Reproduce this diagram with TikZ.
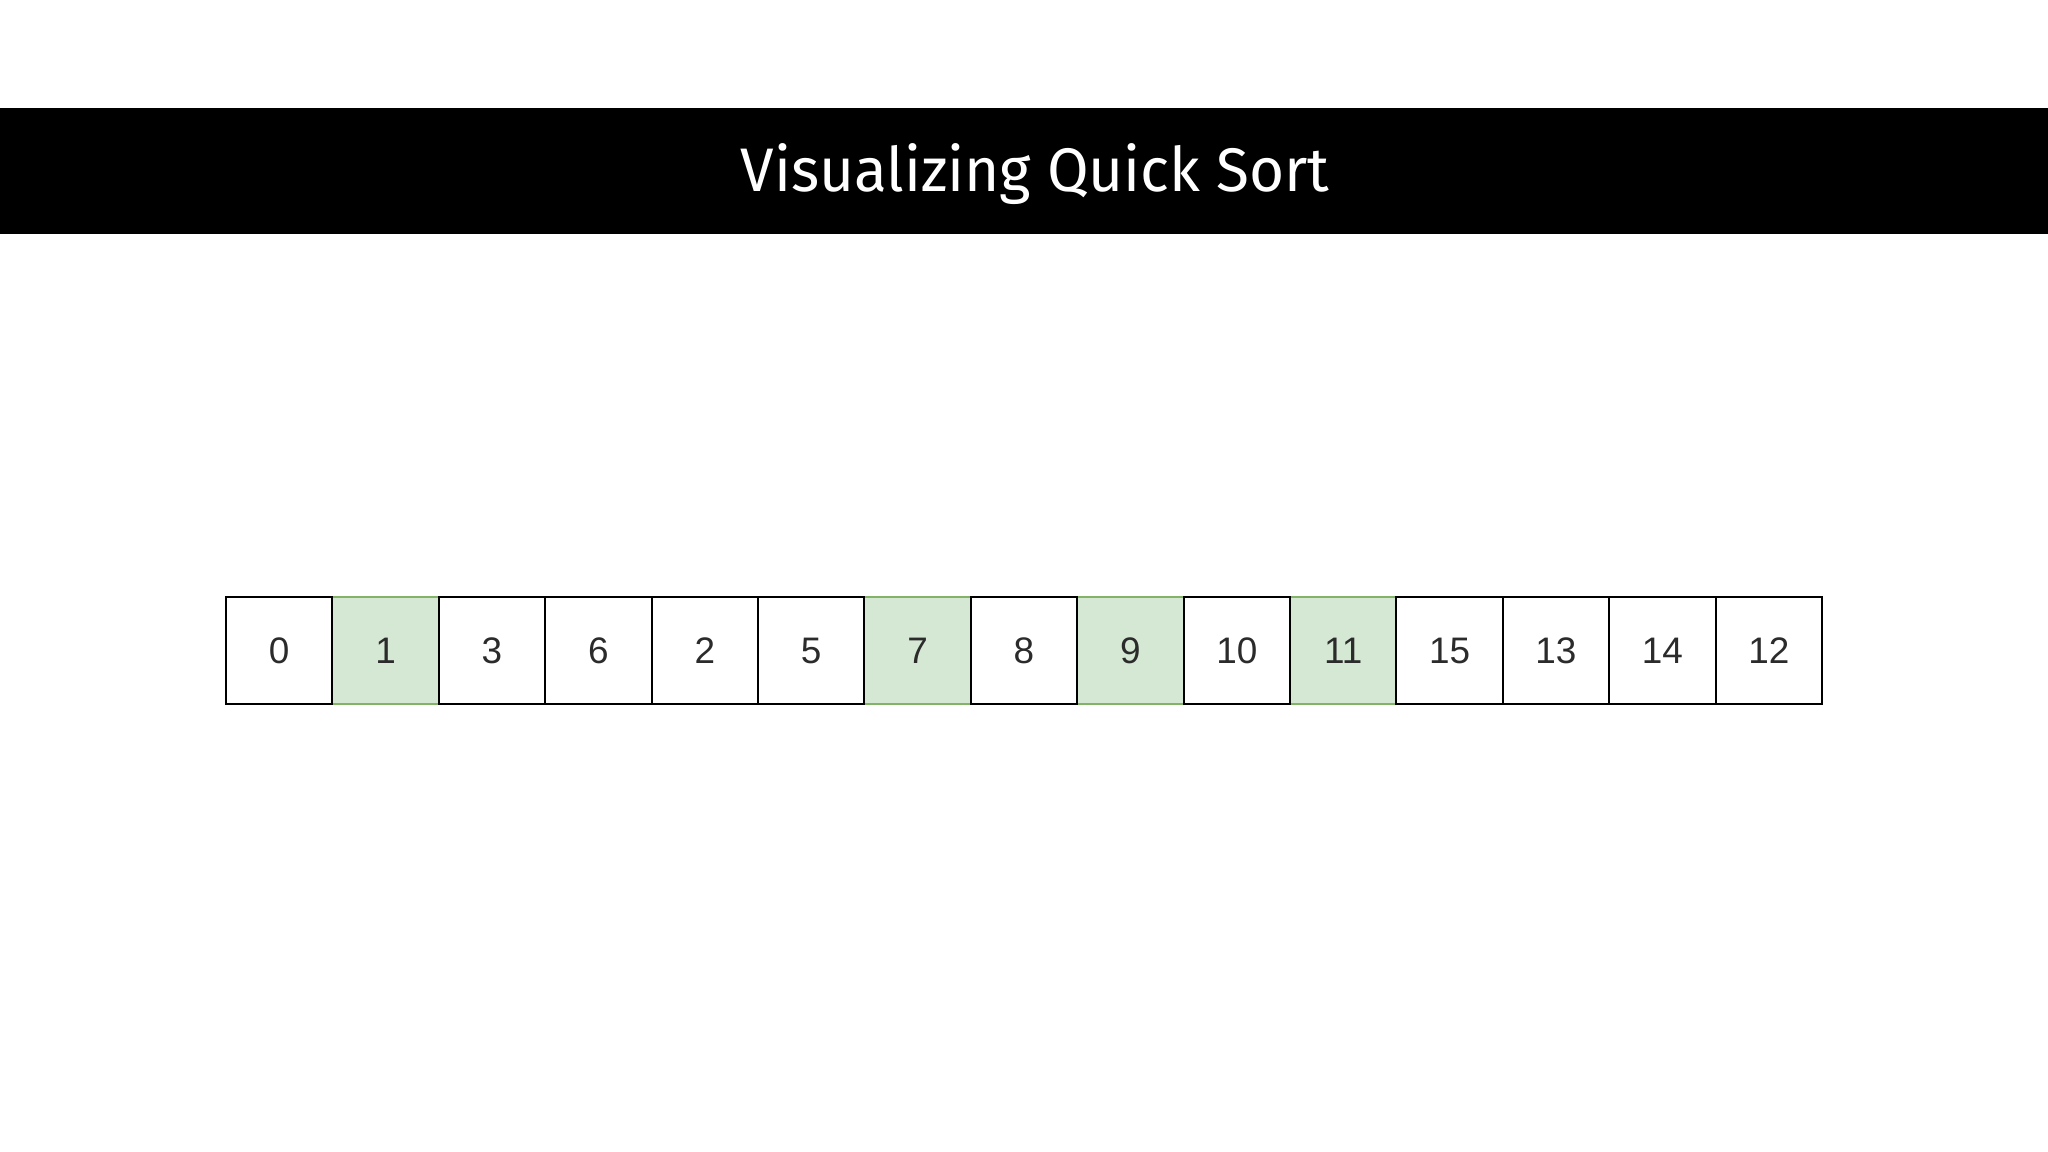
\documentclass[tikz,border=0pt]{standalone}
\usepackage{fontspec}
\setmainfont{Fira Sans}
\newfontfamily\cellfont{Liberation Sans}
\definecolor{pivotfill}{HTML}{D5E8D4}
\definecolor{pivotline}{HTML}{82B366}
\definecolor{digitgray}{HTML}{2B2B2B}
\tikzset{
  cell/.style={draw=black,fill=white,line width=0.6pt,minimum width=1.064cm,minimum height=1.07cm,inner sep=0pt,font=\cellfont\fontsize{10.5}{13}\selectfont,text=digitgray},
  pivot/.style={cell,draw=pivotline,fill=pivotfill}
}
\begin{document}
\begin{tikzpicture}

% Page size and white background
\fill[white] (0,0) rectangle (20.48,-11.52);
\useasboundingbox (0,0) rectangle (20.48,-11.52);

% Title bar
\fill[black] (0,-1.08) rectangle (20.48,-2.34);
\node[text=white,anchor=base,inner sep=0pt,font=\fontsize{17.5}{21}\selectfont] (title) at (10.35,-1.92) {\scalebox{0.98}[1]{Visualizing Quick Sort}};

% Pivots first, so the black borders stay on top
\foreach \v [count=\i from 0] in {1,7,9,11} {
  \pgfmathsetmacro{\k}{{1,6,8,10}[\i]}
  \node[pivot] (p\i) at (2.26+0.532+\k*1.064,-6.505) {\v};
}

% The other cells
\foreach \v/\k in {0/0,3/2,6/3,2/4,5/5,8/7,10/9,15/11,13/12,14/13,12/14} {
  \node[cell] (c\k) at (2.26+0.532+\k*1.064,-6.505) {\v};
}

\end{tikzpicture}
\end{document}
